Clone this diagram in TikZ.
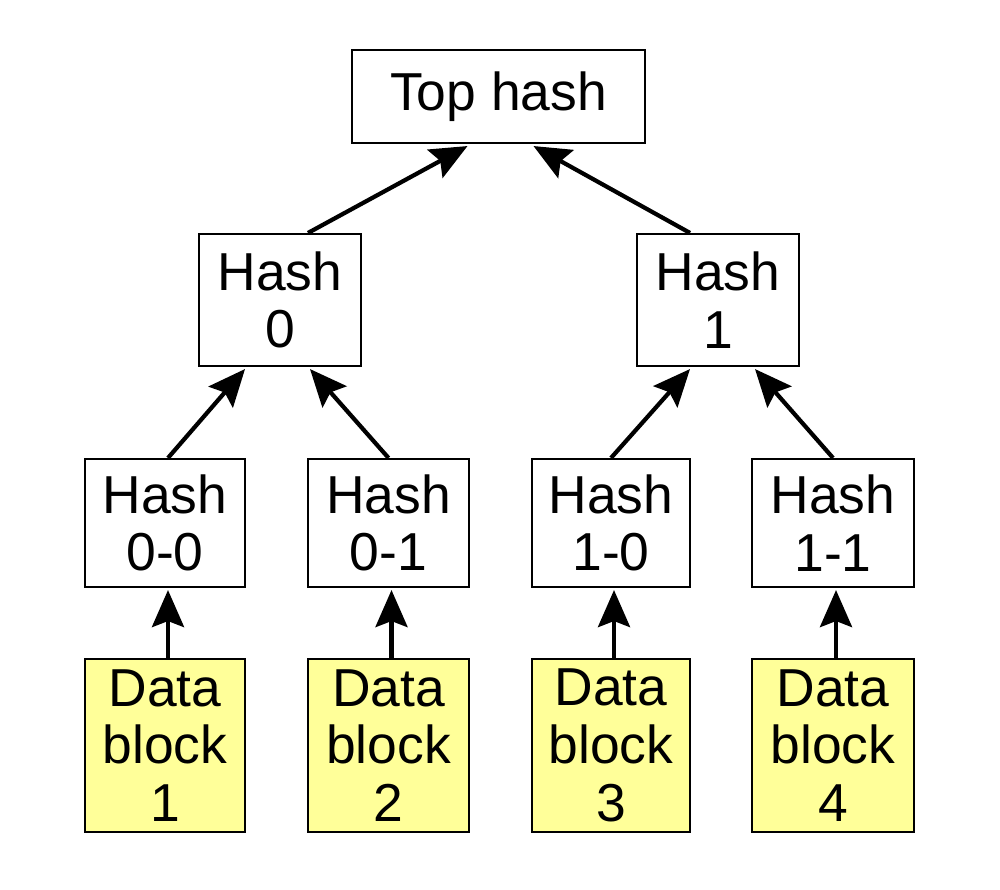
\documentclass[tikz,border=0pt]{standalone}
\usepackage{fontspec}
\setmainfont{Liberation Sans}
\usetikzlibrary{arrows.meta}
\definecolor{datayellow}{RGB}{255,255,153}
\begin{document}
\begin{tikzpicture}[
    hashbox/.style={draw,line width=0.6pt,fill=white,inner sep=0pt,align=center,
        font=\fontsize{15.2}{16.4}\selectfont},
    databox/.style={hashbox,fill=datayellow,minimum width=1.6cm,minimum height=1.73cm},
    arr/.style={line width=1.2pt,-{Stealth[length=3.7mm,width=3.2mm,inset=0.6mm]}}
]
    \useasboundingbox (0,0) rectangle (10,8.89);

    % root and middle level
    \node[hashbox,minimum width=2.93cm,minimum height=0.93cm] (top) at (4.985,7.925) {Top hash};
    \node[hashbox,minimum width=1.62cm,minimum height=1.32cm] (h0) at (2.80,5.89) {Hash\\0};
    \node[hashbox,minimum width=1.62cm,minimum height=1.32cm] (h1) at (7.18,5.89) {Hash\\1};

    % leaf hashes
    \node[hashbox,minimum width=1.60cm,minimum height=1.28cm] (h00) at (1.65,3.66) {Hash\\0-0};
    \node[hashbox,minimum width=1.61cm,minimum height=1.28cm] (h01) at (3.885,3.66) {Hash\\0-1};
    \node[hashbox,minimum width=1.58cm,minimum height=1.28cm] (h10) at (6.11,3.66) {Hash\\1-0};
    \node[hashbox,minimum width=1.62cm,minimum height=1.28cm] (h11) at (8.33,3.66) {Hash\\1-1};

    % data blocks
    \node[databox] (d1) at (1.65,1.435) {Data\\block\\1};
    \node[databox,minimum width=1.61cm] (d2) at (3.885,1.435) {Data\\block\\2};
    \node[databox,minimum width=1.58cm] (d3) at (6.11,1.435) {Data\\block\\3};
    \node[databox,minimum width=1.62cm] (d4) at (8.33,1.435) {Data\\block\\4};

    \draw[arr] ([xshift=0.28cm]h0.north) -- ([xshift=-0.31cm,yshift=-0.02cm]top.south);
    \draw[arr] ([xshift=-0.28cm]h1.north) -- ([xshift=0.35cm,yshift=-0.02cm]top.south);

    \draw[arr] ([xshift=0.03cm]h00.north) -- ([xshift=-0.35cm,yshift=-0.02cm]h0.south);
    \draw[arr] (h01.north) -- ([xshift=0.30cm,yshift=-0.02cm]h0.south);
    \draw[arr] (h10.north) -- ([xshift=-0.28cm,yshift=-0.02cm]h1.south);
    \draw[arr] (h11.north) -- ([xshift=0.37cm,yshift=-0.02cm]h1.south);

    \foreach \i/\h in {1/h00,2/h01,3/h10,4/h11}
        \draw[arr] ([xshift=0.03cm]d\i.north) -- ([xshift=0.03cm,yshift=-0.02cm]\h.south);
\end{tikzpicture}
\end{document}
